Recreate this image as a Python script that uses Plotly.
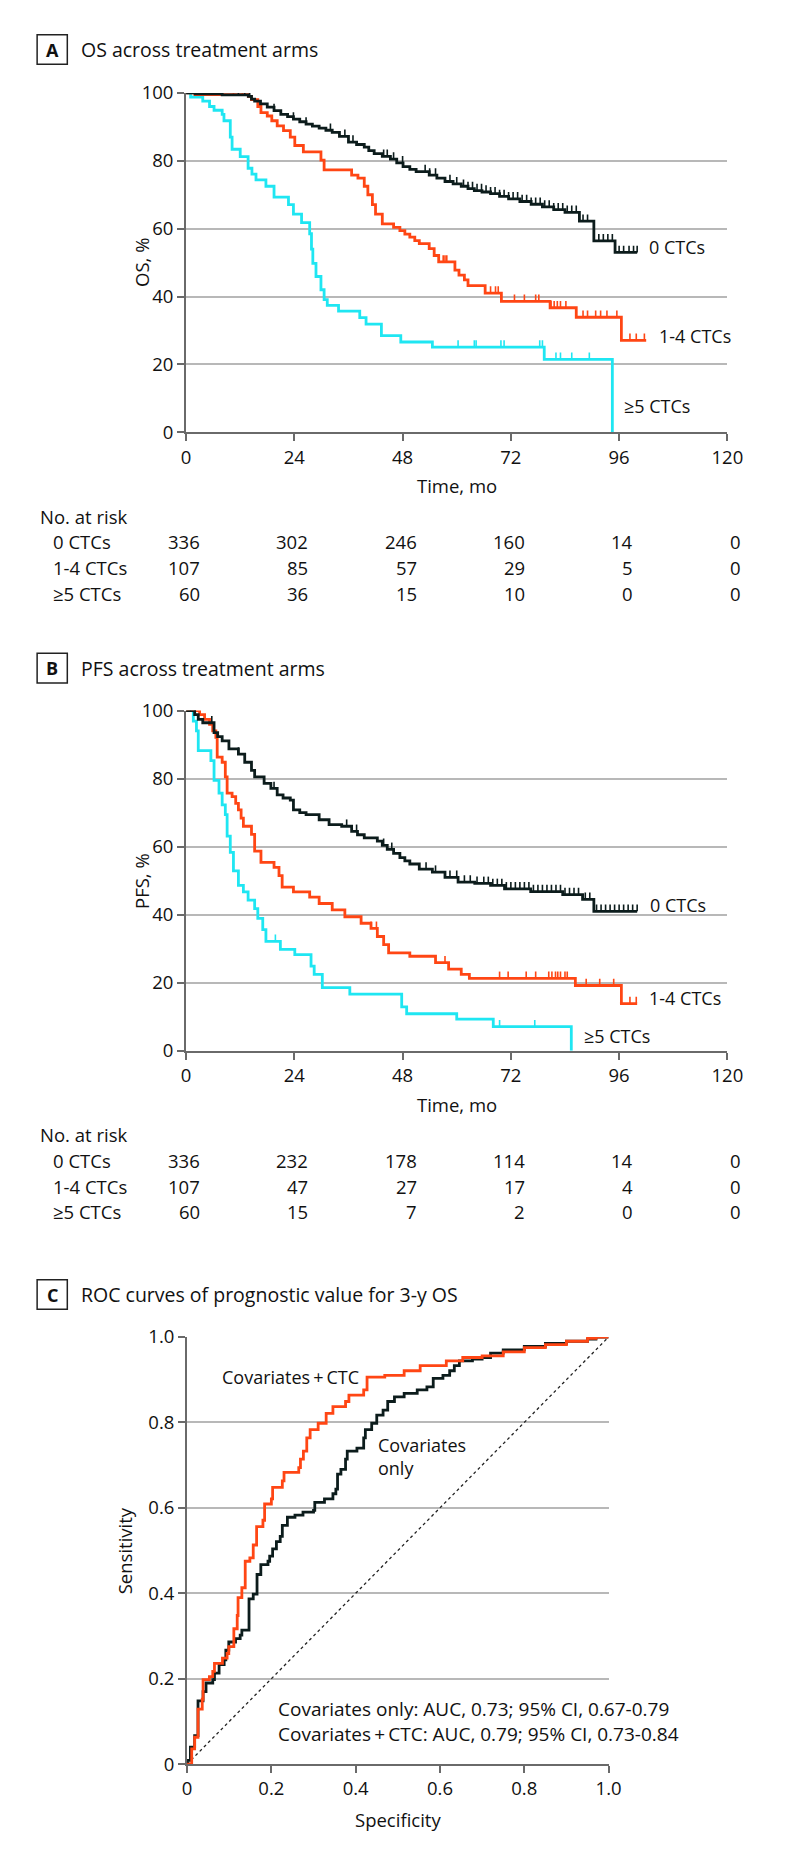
import bisect
import plotly.graph_objects as go

W, H = 794, 1860
FONT = "Open Sans, Noto Sans, sans-serif"

# ---------------- data ----------------
time_ticks = [0, 24, 48, 72, 96, 120]
surv_ticks = [0, 20, 40, 60, 80, 100]
roc_ticks = [0, 0.2, 0.4, 0.6, 0.8, 1.0]
roc_ticktext = ["0", "0.2", "0.4", "0.6", "0.8", "1.0"]
groups = ["0 CTCs", "1-4 CTCs", "\u22655 CTCs"]

# OS, 0 CTCs
os0_t = [0, 2, 8, 13.8, 14.5, 15.2, 16.5, 18, 19.5, 21, 22.5, 23.8, 25.2, 26.6, 28, 29.5, 31, 32.4, 34, 36,
         37.8, 39.5, 40.5, 41.7, 43.5, 45.3, 46.7, 48.1, 49.6, 51, 53.9, 55.6, 57.4, 59.2, 61, 62.5, 63.9,
         65.6, 67.5, 69.5, 71.5, 74, 76.5, 79, 81.5, 84, 87.2, 90.4, 95.1]
os0_s = [100, 99.7, 99.4, 99.0, 98.2, 97.6, 96.8, 95.8, 94.8, 93.7, 93.0, 92.3, 91.5, 90.8, 90.2, 89.6, 89.0,
         88.4, 87.2, 85.5, 84.8, 84.0, 83.0, 82.1, 81.3, 80.5, 79.4, 78.3, 77.5, 76.8, 75.8, 74.9, 73.9, 73.2,
         72.5, 71.8, 71.2, 70.8, 70.3, 69.5, 68.8, 68.0, 67.2, 66.4, 65.6, 64.8, 62.2, 56.4, 53.0]
os0_end = 100
os0_cens = [1, 2.3, 5.9, 11.6, 13, 14.1, 19.5, 23.8, 26.6, 32, 35.2, 37, 43.8, 44.6, 46, 48, 53, 54, 55.3,
            58.5, 60, 61.5, 62.5, 63.5, 64.5, 65.5, 66.5, 67.5, 68.5, 69.5, 70.5, 71.5, 72.5, 73.5, 74.5, 75.5,
            76.5, 77.5, 78.5, 79.5, 80.5, 81.5, 82.5, 83.5, 84.5, 85.5, 86.5, 88, 89, 91.5, 92.5, 93.5, 94.5,
            96, 97, 98.2, 99.2, 100]

# OS, 1-4 CTCs
os1_t = [0, 2, 13.8, 14.5, 15.9, 16.6, 18, 19, 20.2, 21.6, 23.1, 24.1, 26, 29.9, 30.6, 36.7, 38.1, 39.5, 40.3,
         41.3, 42, 43.5, 46, 47.4, 48.5, 49.6, 50.7, 51.7, 53.9, 55, 56, 59.6, 60.5, 61.7, 62.5, 66.3, 69.9,
         80.7, 86.5, 96.5]
os1_s = [100, 99.5, 99.0, 98.0, 96.0, 94.2, 93.2, 91.8, 90.3, 88.9, 87.0, 84.5, 82.6, 80.2, 77.3, 75.8, 74.9,
         72.5, 70.0, 67.1, 64.3, 61.4, 60.4, 59.4, 58.4, 57.5, 56.5, 55.6, 54.1, 52.1, 50.2, 47.8, 46.3, 44.9,
         43.2, 41.0, 38.6, 36.7, 33.9, 27.1]
os1_end = 102
os1_cens = [0.5, 1.0, 1.5, 10.5, 12.5, 55, 57, 57.4, 57.8, 67.5, 68.6, 69.2, 72.8, 75, 77.5, 78.2, 80.9, 81.6,
            82.3, 83, 84.2, 88, 89, 90.8, 91.9, 93.3, 95.5, 98.4, 99.8, 101.6]

# OS, >=5 CTCs
os5_t = [0, 1, 3.7, 5.2, 6.2, 8, 8.4, 9.8, 10.2, 12, 13.75, 14.6, 15.5, 17.7, 19.5, 22.7, 23.8, 25.6, 27.4,
         27.8, 28.1, 28.8, 29.9, 30.6, 31.3, 33.8, 38.5, 39.9, 43.3, 47.6, 54.6, 79.4, 94.5]
os5_s = [100, 98.8, 97.6, 96.0, 94.9, 93.7, 91.8, 87.0, 83.4, 81.2, 77.8, 76.1, 74.4, 72.5, 69.3, 67.1, 64.3,
         61.8, 58.5, 54.0, 49.8, 45.9, 42.0, 39.1, 37.4, 35.7, 33.8, 31.9, 28.5, 26.6, 25.1, 21.5, 0]
os5_end = 94.5
os5_cens = [60.3, 63.9, 64.3, 69.8, 70.5, 78.4, 79.0, 82, 83, 85.5, 89.4]

# PFS, 0 CTCs
pfs0_t = [0, 1.9, 2.7, 3.7, 6.2, 7, 8, 9.5, 11.6, 13, 14.5, 15.2, 17.3, 18.8, 20.2, 21.5, 23.1, 23.8, 25.2,
          26.6, 29.5, 31.7, 34.5, 36.7, 38, 39.5, 42.4, 43.5, 44.6, 46, 47.4, 48.5, 49.6, 51.7, 54.6, 57.4,
          60.3, 64, 67.5, 70.6, 76.4, 83.5, 87.9, 90.4]
pfs0_s = [100, 98.8, 97.4, 96.4, 93.5, 92.3, 91.1, 88.7, 87.2, 84.8, 82.4, 80.5, 78.6, 77.1, 75.2, 74.3, 73.7,
          70.8, 70.0, 69.4, 67.9, 66.5, 66.0, 64.5, 63.5, 62.6, 61.6, 60.4, 59.2, 58.0, 56.8, 55.8, 54.9, 53.4,
          52.5, 51.0, 49.6, 49.2, 48.6, 47.6, 46.8, 45.9, 44.5, 41.0]
pfs0_end = 100
pfs0_cens = [1, 2, 5.7, 11.6, 19.5, 35.6, 37.8, 43.8, 45.6, 53.2, 55.3, 58.5, 60, 61.7, 63, 64.5, 66, 67,
             68, 69, 70, 71, 72, 73, 74, 75, 76, 77, 78, 79, 80, 81, 82, 83, 84, 85, 86, 87, 88.5, 89.5, 91,
             92, 93, 94, 95, 96, 97, 98, 99, 100]

# PFS, 1-4 CTCs
pfs1_t = [0, 3, 4.1, 5.2, 5.9, 6.6, 6.9, 8, 8.7, 9.1, 10.2, 11, 11.6, 12.2, 12.7, 14.5, 15.2, 16.6, 19.5,
          20.6, 21.3, 23.8, 27.4, 29.5, 32.4, 35.2, 38.8, 41, 42.4, 43.8, 44.9, 49.6, 55.3, 58.2, 61, 62.8,
          86.3, 96.5]
pfs1_s = [100, 98.8, 97.4, 95.9, 94.0, 92.1, 86.3, 84.8, 80.5, 75.7, 74.7, 72.7, 70.8, 68.4, 66.0, 63.6, 58.7,
          55.4, 53.9, 51.5, 48.1, 46.7, 45.2, 43.3, 41.4, 39.4, 37.5, 36.0, 33.6, 31.2, 28.8, 27.8, 25.9, 24.0,
          22.5, 21.3, 19.2, 13.9]
pfs1_end = 100
pfs1_cens = [0.5, 1.0, 1.5, 41, 42.2, 57.4, 69.5, 71.4, 75.4, 77.5, 80.4, 81.1, 81.9, 82.4, 83, 84, 84.5,
             88.7, 91.7, 94.8, 98.4, 99.8]

# PFS, >=5 CTCs
pfs5_t = [0, 1.6, 2.3, 2.7, 5.5, 6.2, 7.3, 8, 8.7, 9.1, 9.8, 10.5, 11.6, 12.7, 13.75, 15.2, 15.9, 17, 17.7,
          20.9, 24.1, 27.7, 28.4, 30.2, 36.3, 47.8, 48.9, 60, 68.1, 85.4]
pfs5_s = [100, 96.9, 94.0, 88.2, 85.3, 79.5, 75.7, 72.3, 69.4, 63.1, 58.3, 52.9, 48.6, 46.7, 44.3, 41.8, 38.9,
          35.6, 32.2, 29.8, 28.3, 24.9, 22.5, 18.6, 16.7, 12.9, 10.9, 9.3, 7.1, 0]
pfs5_end = 85.4
pfs5_cens = [19.8, 69.5, 77.3]

# numbers at risk
risk_os = [[336, 302, 246, 160, 14, 0], [107, 85, 57, 29, 5, 0], [60, 36, 15, 10, 0, 0]]
risk_pfs = [[336, 232, 178, 114, 14, 0], [107, 47, 27, 17, 4, 0], [60, 15, 7, 2, 0, 0]]

# ROC curves (x axis labelled "Specificity", y = sensitivity)
roc_cov_x = [0, 0, 0.007, 0.008, 0.018, 0.026, 0.038, 0.045, 0.061, 0.065, 0.076, 0.088, 0.092, 0.099, 0.115,
             0.126, 0.13, 0.147, 0.157, 0.166, 0.175, 0.192, 0.196, 0.203, 0.212, 0.221, 0.226, 0.238, 0.256,
             0.275, 0.3, 0.303, 0.326, 0.346, 0.353, 0.357, 0.365, 0.376, 0.38, 0.403, 0.419, 0.423, 0.438,
             0.45, 0.465, 0.476, 0.492, 0.515, 0.546, 0.569, 0.584, 0.607, 0.623, 0.634, 0.646, 0.677, 0.7,
             0.72, 0.75, 0.8, 0.85, 0.9, 0.95, 0.97, 1.0]
roc_cov_y = [0, 0.009, 0.009, 0.04, 0.067, 0.148, 0.17, 0.19, 0.198, 0.213, 0.233, 0.244, 0.267, 0.286, 0.294,
             0.302, 0.314, 0.387, 0.398, 0.444, 0.467, 0.475, 0.487, 0.504, 0.521, 0.533, 0.559, 0.578, 0.583,
             0.59, 0.594, 0.613, 0.621, 0.633, 0.644, 0.679, 0.69, 0.714, 0.733, 0.74, 0.764, 0.783, 0.798,
             0.817, 0.829, 0.849, 0.86, 0.868, 0.876, 0.883, 0.903, 0.91, 0.921, 0.933, 0.944, 0.948, 0.952,
             0.962, 0.97, 0.978, 0.985, 0.99, 0.995, 1.0, 1.0]
roc_ctc_x = [0, 0.011, 0.011, 0.018, 0.026, 0.036, 0.038, 0.053, 0.061, 0.065, 0.084, 0.095, 0.099, 0.111,
             0.111, 0.119, 0.121, 0.13, 0.138, 0.149, 0.157, 0.165, 0.18, 0.184, 0.2, 0.203, 0.226, 0.23,
             0.265, 0.269, 0.276, 0.284, 0.292, 0.311, 0.33, 0.346, 0.376, 0.384, 0.419, 0.427, 0.469, 0.515,
             0.553, 0.615, 0.654, 0.7, 0.75, 0.8, 0.85, 0.9, 0.95, 0.97, 1.0]
roc_ctc_y = [0, 0, 0.036, 0.063, 0.129, 0.152, 0.198, 0.205, 0.217, 0.236, 0.248, 0.259, 0.275, 0.294, 0.317,
             0.348, 0.39, 0.413, 0.475, 0.483, 0.513, 0.556, 0.571, 0.609, 0.621, 0.648, 0.663, 0.683, 0.694,
             0.714, 0.733, 0.764, 0.783, 0.798, 0.821, 0.837, 0.849, 0.864, 0.876, 0.906, 0.91, 0.921, 0.933,
             0.944, 0.952, 0.956, 0.965, 0.975, 0.982, 0.99, 0.997, 1.0, 1.0]
roc_ref = [0, 1]
auc_text = ["Covariates only: AUC, 0.73; 95% CI, 0.67-0.79",
            "Covariates\u2009+\u2009CTC: AUC, 0.79; 95% CI, 0.73-0.84"]

# ---------------- style ----------------
C_BLACK = "#0c1c1c"
C_ORANGE = "#ff4614"
C_CYAN = "#1fe6f2"
GRID = "#b8b8b8"
AXIS = "#6a6a6a"
LW = 2.8
TICK_H = 2.0
TXT = "#111111"


def px(x):
    return x / W


def py(y):
    return 1 - y / H


def surv_at(ts, ss, t):
    i = bisect.bisect_right(ts, t) - 1
    return ss[max(i, 0)]


def censor_xy(ts, ss, cens, h):
    xs, ys = [], []
    for c in cens:
        s = surv_at(ts, ss, c)
        xs += [c, c, None]
        ys += [s, s + h, None]
    return xs, ys


fig = go.Figure()


def add_km(ts, ss, end, cens, color, xa, ya):
    xs = list(ts) + ([end] if end > ts[-1] else [])
    ys = list(ss) + ([ss[-1]] if end > ts[-1] else [])
    fig.add_trace(go.Scatter(x=xs, y=ys, mode="lines", line=dict(color=color, width=LW, shape="hv"),
                             xaxis=xa, yaxis=ya, cliponaxis=False, hoverinfo="skip", showlegend=False))
    cx, cy = censor_xy(ts, ss, cens, TICK_H)
    fig.add_trace(go.Scatter(x=cx, y=cy, mode="lines", line=dict(color=color, width=1.6),
                             xaxis=xa, yaxis=ya, cliponaxis=False, hoverinfo="skip", showlegend=False))


# Panel A (OS)
add_km(os5_t, os5_s, os5_end, os5_cens, C_CYAN, "x", "y")
add_km(os1_t, os1_s, os1_end, os1_cens, C_ORANGE, "x", "y")
add_km(os0_t, os0_s, os0_end, os0_cens, C_BLACK, "x", "y")
# Panel B (PFS)
add_km(pfs5_t, pfs5_s, pfs5_end, pfs5_cens, C_CYAN, "x2", "y2")
add_km(pfs1_t, pfs1_s, pfs1_end, pfs1_cens, C_ORANGE, "x2", "y2")
add_km(pfs0_t, pfs0_s, pfs0_end, pfs0_cens, C_BLACK, "x2", "y2")
# Panel C (ROC)
fig.add_trace(go.Scatter(x=roc_ref, y=roc_ref, mode="lines", line=dict(color="#222222", width=1.3, dash="dot"),
                         xaxis="x3", yaxis="y3", hoverinfo="skip", showlegend=False))
fig.add_trace(go.Scatter(x=roc_cov_x, y=roc_cov_y, mode="lines", line=dict(color=C_BLACK, width=LW, shape="hv"),
                         xaxis="x3", yaxis="y3", cliponaxis=False, hoverinfo="skip", showlegend=False))
fig.add_trace(go.Scatter(x=roc_ctc_x, y=roc_ctc_y, mode="lines", line=dict(color=C_ORANGE, width=LW, shape="hv"),
                         xaxis="x3", yaxis="y3", cliponaxis=False, hoverinfo="skip", showlegend=False))

tickfont = dict(family=FONT, size=18.5, color=TXT)
common_x = dict(showgrid=False, zeroline=False, showline=True, linecolor=AXIS, linewidth=2,
                ticks="outside", ticklen=7, tickwidth=2, tickcolor=AXIS, tickfont=tickfont, fixedrange=True)
common_y = dict(showgrid=True, gridcolor=GRID, gridwidth=2, zeroline=False, showline=True, linecolor=AXIS,
                linewidth=2, ticks="outside", ticklen=7, tickwidth=2, tickcolor=AXIS, tickfont=tickfont,
                fixedrange=True)

# plot areas in pixels
A = dict(x0=186, x1=742, y0=80, y1=424)
B = dict(x0=186, x1=742, y0=706, y1=1051)
C = dict(x0=187, x1=620, y0=1341, y1=1774)

fig.update_layout(
    width=W, height=H, margin=dict(l=0, r=0, t=0, b=0),
    paper_bgcolor="white", plot_bgcolor="white", showlegend=False, hovermode=False,
    font=dict(family=FONT, size=18, color=TXT),
    xaxis=dict(common_x, domain=[px(A["x0"]), px(A["x1"])], range=[0, 120], tickvals=time_ticks, anchor="y"),
    yaxis=dict(common_y, domain=[py(A["y1"]), py(A["y0"])], range=[0, 100], tickvals=surv_ticks, anchor="x"),
    xaxis2=dict(common_x, domain=[px(B["x0"]), px(B["x1"])], range=[0, 120], tickvals=time_ticks, anchor="y2"),
    yaxis2=dict(common_y, domain=[py(B["y1"]), py(B["y0"])], range=[0, 100], tickvals=surv_ticks, anchor="x2"),
    xaxis3=dict(common_x, domain=[px(C["x0"]), px(C["x1"])], range=[0, 1], tickvals=roc_ticks,
                ticktext=roc_ticktext, anchor="y3"),
    yaxis3=dict(common_y, domain=[py(C["y1"]), py(C["y0"])], range=[0, 1], tickvals=roc_ticks,
                ticktext=roc_ticktext, anchor="x3"),
)

ann = []
shapes = []


def text(x, y, s, size=18, xanchor="left", yanchor="middle", angle=0, bold=False, align="left"):
    ann.append(dict(x=px(x), y=py(y), xref="paper", yref="paper", text=(f"<b>{s}</b>" if bold else s),
                    showarrow=False, xanchor=xanchor, yanchor=yanchor, textangle=angle, align=align,
                    font=dict(family=FONT, size=size, color=TXT)))


def panel_title(letter, title, yc):
    shapes.append(dict(type="rect", xref="paper", yref="paper", x0=px(33), x1=px(64), y0=py(yc + 15),
                       y1=py(yc - 15), line=dict(color="#222222", width=1.5)))
    text(48.5, yc, letter, size=18, xanchor="center", bold=True)
    text(76, yc, title, size=19.5)


panel_title("A", "OS across treatment arms", 36)
panel_title("B", "PFS across treatment arms", 663)
panel_title("C", "ROC curves of prognostic value for 3-y OS", 1298)

# axis titles
text(140, (A["y0"] + A["y1"]) / 2, "OS, %", size=18.5, angle=-90, xanchor="center")
text(140, (B["y0"] + B["y1"]) / 2, "PFS, %", size=18.5, angle=-90, xanchor="center")
text(123, (C["y0"] + C["y1"]) / 2, "Sensitivity", size=18.5, angle=-90, xanchor="center")
text((A["x0"] + A["x1"]) / 2, 478, "Time, mo", size=18.5, xanchor="center")
text((B["x0"] + B["x1"]) / 2, 1105, "Time, mo", size=18.5, xanchor="center")
text((C["x0"] + C["x1"]) / 2, 1830, "Specificity", size=18.5, xanchor="center")

# curve labels
text(659, 236, groups[0])
text(670, 326, groups[1])
text(634, 397, groups[2])
text(660, 903, groups[0])
text(659, 997, groups[1])
text(593, 1036, groups[2])


# risk tables
def risk_table(rows, xref, y_head):
    text(34, y_head, "No. at risk", size=18.5)
    for r, (g, vals) in enumerate(zip(groups, rows)):
        yy = y_head + 26 * (r + 1)
        text(47, yy, g, size=18.5)
        for t, v in zip(time_ticks, vals):
            ann.append(dict(x=t, xref=xref, y=py(yy), yref="paper", text=str(v), showarrow=False,
                            xanchor="right", yanchor="middle", xshift=16,
                            font=dict(family=FONT, size=18.5, color=TXT)))


risk_table(risk_os, "x", 509)
risk_table(risk_pfs, "x2", 1136)

# ROC labels
text(221, 1382, "Covariates\u2009+\u2009CTC")
text(381, 1462, "Covariates<br>only")
text(278, 1731, "<br>".join(auc_text), size=19)

fig.update_layout(annotations=ann, shapes=shapes)
fig.write_html("out.html", config={"displayModeBar": False, "staticPlot": True},
               post_script="document.body.style.margin='0px';document.body.style.padding='0px';")
